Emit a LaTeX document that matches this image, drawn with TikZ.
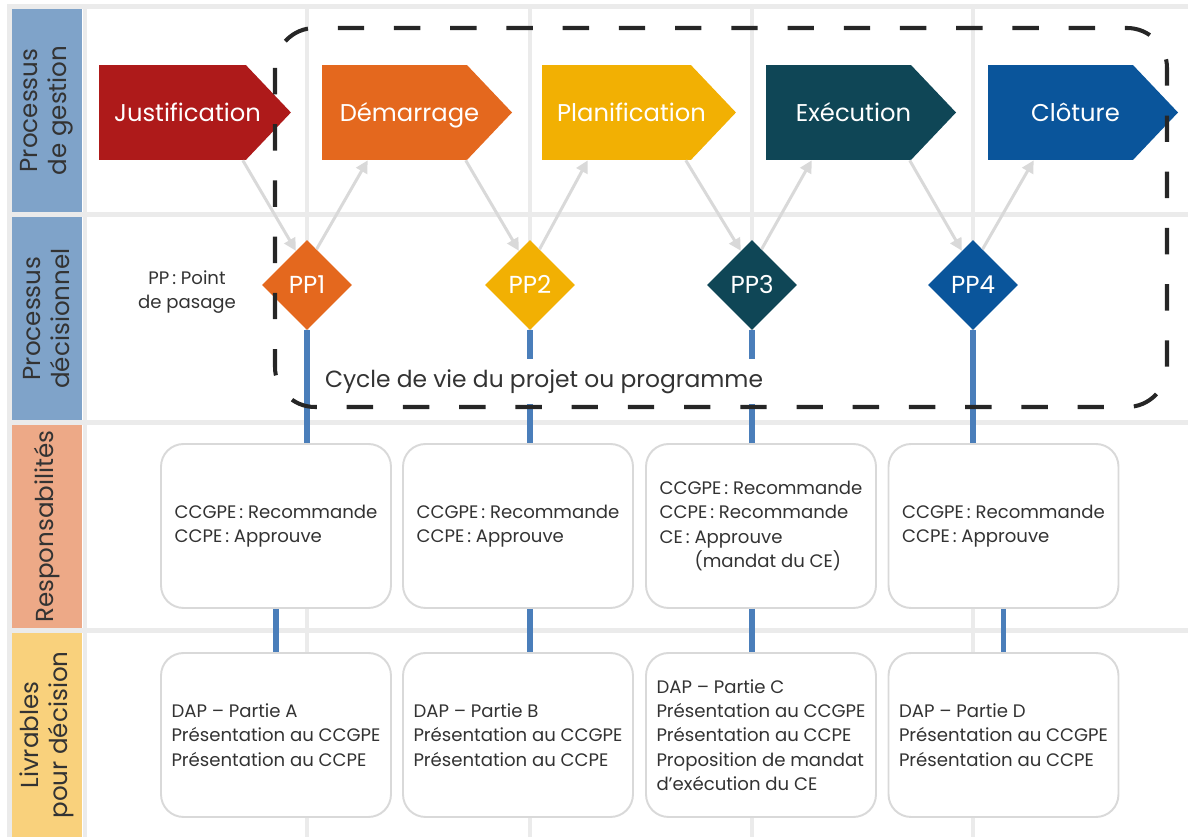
\documentclass[tikz,border=0pt]{standalone}
\usepackage{fontspec}
\usepackage{tikz}
\usepackage{xcolor}
\setmainfont{Poppins}
\usetikzlibrary{shapes.geometric,shapes.symbols,arrows.meta,calc}

\definecolor{justC}{HTML}{AE1A1A}
\definecolor{demC}{HTML}{E4681E}
\definecolor{planC}{HTML}{F2B003}
\definecolor{execC}{HTML}{0F4656}
\definecolor{cloC}{HTML}{0A559B}
\definecolor{laneBlue}{HTML}{7FA3C9}
\definecolor{laneSalmon}{HTML}{EDA987}
\definecolor{laneYellow}{HTML}{F9D17C}
\definecolor{linkBlue}{HTML}{4A7EBA}
\definecolor{arrowGray}{HTML}{D9D9D9}
\definecolor{gridGray}{HTML}{EBEBEB}
\definecolor{textDark}{HTML}{333333}
\definecolor{frameDark}{HTML}{262626}

\newcommand{\phasefont}{\fontsize{13.8}{16}\selectfont}
\newcommand{\lanefont}{\fontsize{14}{16.5}\selectfont}
\newcommand{\ppfont}{\fontsize{14}{16}\selectfont}
\newcommand{\boxfont}{\fontsize{10.3}{13.8}\selectfont}
\newcommand{\cyclefont}{\fontsize{13.3}{16}\selectfont}
\newcommand{\phasetxt}[1]{\hspace*{0.3cm}#1\hspace*{-0.3cm}}

\begin{document}
\begin{tikzpicture}[x=0.02cm,y=-0.02cm]
      \useasboundingbox(0,0) rectangle (1188,837);
      \tikzset{G/.style = {draw=gridGray, line width=2.8pt}}
      \tikzset{lane/.style = {rotate=90, minimum width=4.06cm, minimum height=1.4cm, inner sep=0pt, text=textDark, align=center, font=\lanefont}}
      \tikzset{phase/.style = {shape=signal, signal to=east, signal pointer angle=93, minimum width=3.8cm, minimum height=1.9cm, inner sep=0pt, text height=11pt, text depth=0.6pt, text=white, font=\phasefont}}
      \tikzset{PP/.style = {shape=diamond, minimum size=1.8cm, inner sep=0pt, text height=10pt, text depth=0pt, text=white, font=\ppfont}}
      \tikzset{B/.style = {shape=rectangle, rounded corners=0.45cm, draw=arrowGray, line width=1.1pt, fill=white, minimum width=4.6cm, minimum height=3.28cm, align=left, text=textDark, font=\boxfont}}
      \tikzset{E/.style = {draw=arrowGray, line width=1.7pt, -{Triangle[length=7pt,width=7pt]}}}
      \tikzset{L/.style = {draw=linkBlue, line width=3.4pt}}
      % table
      \draw[G] (7,6.5) -- (1188,6.5) (7,214.5) -- (1188,214.5) (7,422.5) -- (1188,422.5) (7,630.5) -- (1188,630.5);
      \draw[G] (9.5,4) -- (9.5,837) (85,4) -- (85,837) (307,4) -- (307,837) (530,4) -- (530,837) (752,4) -- (752,837) (973,4) -- (973,837);
      \node[lane,fill=laneBlue](lg) at (47,110.5) {Processus\\de gestion};
      \node[lane,fill=laneBlue](ld) at (47,318.5) {Processus\\décisionnel};
      \node[lane,fill=laneSalmon](lr) at (47,526.5) {Responsabilités};
      \node[lane,fill=laneYellow,minimum width=4.08cm](ll) at (47,735) {Livrables\\pour décision};
      % phases
      \node[phase,fill=justC](just) at (172.5,112.5) {\phasetxt{Justification}};
      \node[phase,fill=demC](dem) at (394.5,112.5) {\phasetxt{Démarrage}};
      \node[phase,fill=planC](plan) at (616.5,112.5) {\phasetxt{Planification}};
      \node[phase,fill=execC](exec) at (838.5,112.5) {\phasetxt{Exécution}};
      \node[phase,fill=cloC](clo) at (1060.5,112.5) {\phasetxt{Clôture}};
      % points de passage
      \node[PP,fill=demC](pp1) at (307,285) {PP1};
      \node[PP,fill=planC](pp2) at (530,285) {PP2};
      \node[PP,fill=execC](pp3) at (752,285) {PP3};
      \node[PP,fill=cloC](pp4) at (973,285) {PP4};
      \node[font=\boxfont,text=textDark,align=center](leg) at (187,292) {PP\,: Point\\de pasage};
      % responsabilites
      \node[B](r1) at (276,526) {CCGPE\,: Recommande\\CCPE\,: Approuve};
      \node[B](r2) at (518,526) {CCGPE\,: Recommande\\CCPE\,: Approuve};
      \node[B](r3) at (761,526) {CCGPE\,: Recommande\\CCPE\,: Recommande\\CE\,: Approuve\\\phantom{CE\,:\ }(mandat du CE)};
      \node[B](r4) at (1003.5,526) {CCGPE\,: Recommande\\CCPE\,: Approuve};
      % livrables
      \node[B](l1) at (276,735) {DAP – Partie A\\Présentation au CCGPE\\Présentation au CCPE};
      \node[B](l2) at (518,735) {DAP – Partie B\\Présentation au CCGPE\\Présentation au CCPE};
      \node[B](l3) at (761,735) {DAP – Partie C\\Présentation au CCGPE\\Présentation au CCPE\\Proposition de mandat\\d’exécution du CE};
      \node[B](l4) at (1003.5,735) {DAP – Partie D\\Présentation au CCGPE\\Présentation au CCPE};
      \draw[L] (pp1.south) to (pp1.south |- r1.north);
      \draw[L] (pp2.south) to (pp2.south |- r2.north);
      \draw[L] (pp3.south) to (pp3.south |- r3.north);
      \draw[L] (pp4.south) to (pp4.south |- r4.north);
      \draw[L] (r1.south) to (l1.north);
      \draw[L] (pp2 |- r2.south) to (pp2 |- l2.north);
      \draw[L] (pp3 |- r3.south) to (pp3 |- l3.north);
      \draw[L] (r4.south) to (l4.north);
      \draw[E] ($(just.south west)+(144,0)$) to (pp1.108);
      \draw[E] (pp1.75) to ($(dem.south west)+(46,0)$);
      \draw[E] ($(dem.south west)+(144,0)$) to (pp2.108);
      \draw[E] (pp2.75) to ($(plan.south west)+(46,0)$);
      \draw[E] ($(plan.south west)+(144,0)$) to (pp3.108);
      \draw[E] (pp3.75) to ($(exec.south west)+(46,0)$);
      \draw[E] ($(exec.south west)+(144,0)$) to (pp4.108);
      \draw[E] (pp4.75) to ($(clo.south west)+(46,0)$);
      % cycle de vie
      \node[fill=white,text=textDark,font=\cyclefont,minimum height=0.9cm,inner xsep=2pt](cyc) at (544,382) {Cycle de vie du projet ou programme};
      \draw[draw=frameDark,line width=2.3pt,dash pattern=on 15pt off 17pt,rounded corners=0.8cm] (275,28) rectangle (1167,407);
    \end{tikzpicture}
\end{document}
